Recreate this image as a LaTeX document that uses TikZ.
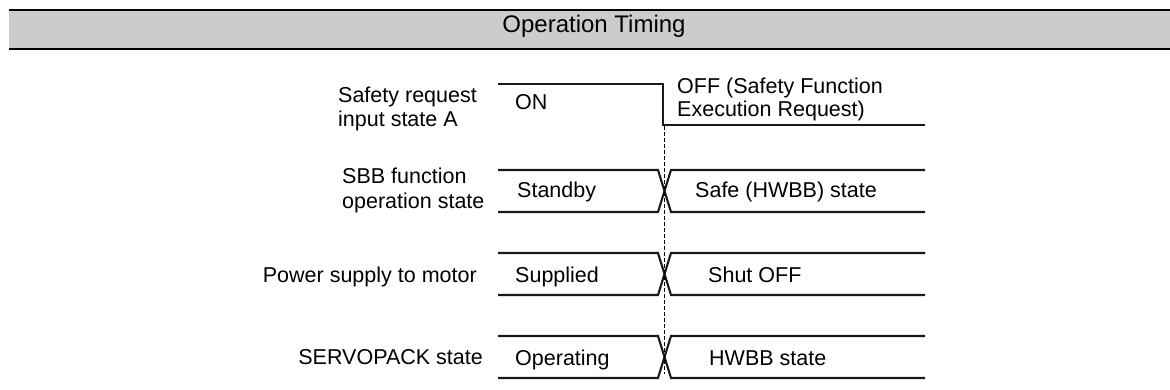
\documentclass[tikz,border=0pt]{standalone}
\usepackage{fontspec}
\setmainfont{Liberation Sans}
\begin{document}
\begin{tikzpicture}[x=1pt,y=-1pt,
  lbl/.style={inner sep=0pt,font=\fontsize{21.5}{24}\selectfont},
  sig/.style={line width=2.1pt,line join=miter,color={rgb,255:red,25;green,25;blue,25}},
  guide/.style={line width=1pt,dash pattern=on 4pt off 2pt}]
\useasboundingbox (0,0) rectangle (1170,390);
% header
\fill[fill={rgb,255:red,204;green,204;blue,204}] (9,10) rectangle (1170,49);
\draw[line width=2.2pt] (9,10) -- (1170,10);
\draw[line width=1.7pt] (9,49) -- (1170,49);
\node[inner sep=0pt,anchor=base,font=\fontsize{24}{28}\selectfont] (title) at (594,33) {Operation Timing};
% left labels
\node[lbl,anchor=base west] (la1) at (338,103) {Safety request};
\node[lbl,anchor=base west] (la2) at (338,127) {input state A};
\node[lbl,anchor=base west] (lb1) at (342,184) {SBB function};
\node[lbl,anchor=base west] (lb2) at (342,209) {operation state};
\node[lbl,anchor=base east] (lc) at (477,282) {Power supply to motor};
\node[lbl,anchor=base east] (ld) at (483,364) {SERVOPACK state};
% row 1
\draw[sig] (498,84) -- (663,84) -- (663,125) -- (925,125);
\node[lbl,anchor=base west] (on) at (515,110) {ON};
\node[lbl,anchor=base west] (off1) at (677,94) {OFF (Safety Function};
\node[lbl,anchor=base west] (off2) at (677,117) {Execution Request)};
% row 2
\draw[sig] (498,170) -- (658,170) -- (671,212) -- (925,212);
\draw[sig] (498,212) -- (658,212) -- (671,170) -- (925,170);
\node[lbl,anchor=base west] (stb) at (517,198) {Standby};
\node[lbl,anchor=base west] (safe) at (695,198) {Safe (HWBB) state};
% row 3
\draw[sig] (498,253) -- (658,253) -- (671,295) -- (925,295);
\draw[sig] (498,295) -- (658,295) -- (671,253) -- (925,253);
\node[lbl,anchor=base west] (sup) at (515,282) {Supplied};
\node[lbl,anchor=base west] (shut) at (708,282) {Shut OFF};
% row 4
\draw[sig] (498,336) -- (658,336) -- (671,378) -- (925,378);
\draw[sig] (498,378) -- (658,378) -- (671,336) -- (925,336);
\node[lbl,anchor=base west] (opr) at (515,365) {Operating};
\node[lbl,anchor=base west] (hwbb) at (709,365) {HWBB state};
% guide
\coordinate (g1) at (664,126);
\coordinate (g2) at (664,374);
\draw[guide] (g1) -- (g2);
\end{tikzpicture}
\end{document}
